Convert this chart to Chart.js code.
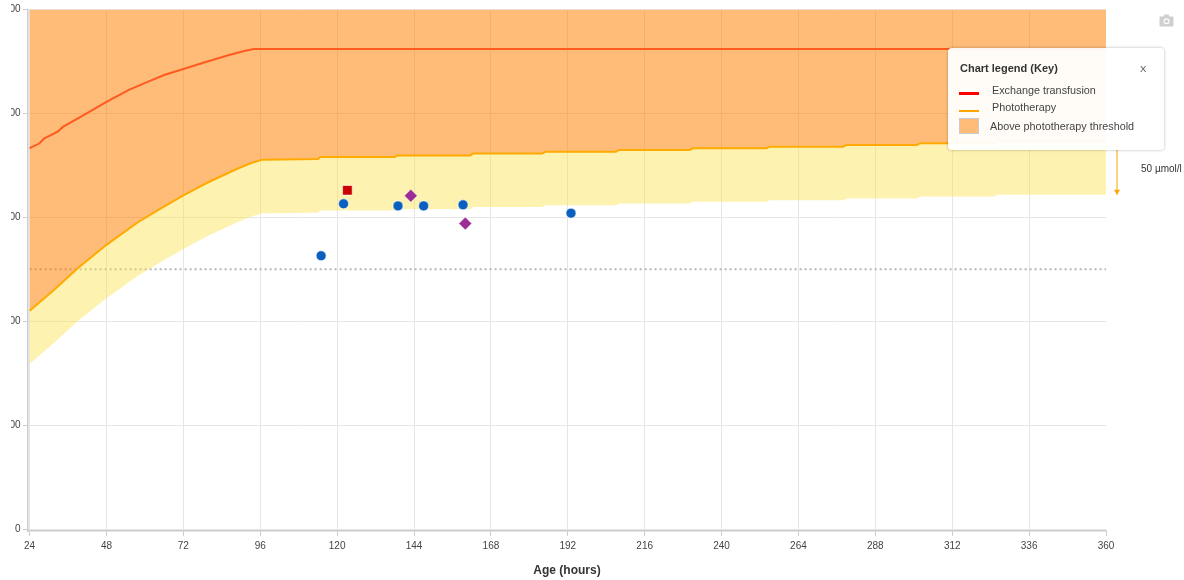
<!DOCTYPE html>
<html>
<head>
<meta charset="utf-8">
<style>
html,body{margin:0;padding:0;background:#fff;overflow:hidden;width:1184px;height:580px;font-family:"Liberation Sans",Arial,sans-serif}
#wrap{position:absolute;left:11px;top:0;width:1173px;height:580px}
#legend{position:absolute;left:948px;top:48px;width:216px;height:102px;box-sizing:border-box;background:rgba(255,255,255,.94);border-radius:4px;box-shadow:0 0 3px rgba(0,0,0,.3);color:#444;font-size:10.8px}
#legend div{position:absolute;white-space:nowrap;line-height:12px}
#legend .t{left:12px;top:14px;font-weight:bold;color:#333;font-size:11px}
#legend .x{left:192px;top:15px;color:#555;font-size:9.5px}
#legend .k1{left:11px;top:44px;width:20px;height:3px;background:#ff0000}
#legend .k2{left:11px;top:62px;width:20px;height:2px;background:#ffa500}
#legend .k3{left:11px;top:70px;width:18px;height:14px;background:#ffbb78;border:1px solid #ccc}
#legend .l1{left:44px;top:36px}
#legend .l2{left:44px;top:53px}
#legend .l3{left:42px;top:72px}
#cam{position:absolute;left:1159px;top:14px}
</style>
<script src="https://cdn.jsdelivr.net/npm/chart.js@4"></script>
</head>
<body>
<div id="wrap"><canvas id="c" width="1173" height="580"></canvas></div>
<svg id="cam" width="15" height="13" viewBox="0 0 15 13"><path fill="#cfcfcf" d="M1.5 2.5h3l1-2h4l1 2h3a1 1 0 0 1 1 1v8a1 1 0 0 1-1 1h-12a1 1 0 0 1-1-1v-8a1 1 0 0 1 1-1zM7.5 4.2a3 3 0 1 0 0 6 3 3 0 0 0 0-6z"/><circle cx="7.5" cy="7.2" r="1.8" fill="#cfcfcf"/></svg>
<div id="legend">
  <div class="t">Chart legend (Key)</div><div class="x">X</div>
  <div class="k1"></div><div class="l1">Exchange transfusion</div>
  <div class="k2"></div><div class="l2">Phototherapy</div>
  <div class="k3"></div><div class="l3">Above phototherapy threshold</div>
</div>
<script>
const xTicks = [24,48,72,96,120,144,168,192,216,240,264,288,312,336,360];
const yTicks = [0,100,200,300,400,500];

const exchangeHours = [24,27,28.6,32.8,34.4,41,48,55,61.4,66,72,78.5,86,91,94,360];
const exchangeValues = [366.5,371,376,382.5,387,398.5,411,422.6,431,437,442.8,449,456,460,462,462];

const photoHours = [24,31.6,39,48,57.7,62,65,72,79.6,89,93,96.7,114,114.8,138,138.8,161.6,162.4,184,185,207,208,230,231,254,255,278,279,301,302,325,326,360];
const photoUpper = [210,230,251,273.5,295,303,308.5,321,333.5,347,352,355.5,356,358,358,359.6,359.6,361.5,361.5,363,363,364.8,364.8,366.4,366.4,368,368,369.7,369.7,371.3,371.3,373,373];
const photoLower = [159,179,200,222,243.5,251.5,257,269.5,282,295.5,300.5,304,304.5,306.5,306.5,308,308,310,310,311.5,311.5,313.3,313.3,315,315,316.5,316.5,318.2,318.2,320,320,321.6,321.6];

const refHours = [24,360];
const refValues = [250,250];

const circleHours = [115,122,139,147,159.3,193];
const circleValues = [263,313,311,311,312,304];
const diamondHours = [143,160];
const diamondValues = [320.7,294];
const squareHours = [123.2];
const squareValues = [326];

const zip = (xs, ys) => xs.map((x, i) => ({x, y: ys[i]}));
const markerBase = {showLine:false, borderColor:'rgba(255,255,255,.6)', borderWidth:1};

const arrowPlugin = {
  id:'arrow',
  afterDraw(chart){
    const {ctx, scales:{y}, chartArea:a} = chart;
    const x = a.right + 11;
    const y1 = y.getPixelForValue(photoUpper[photoUpper.length-1]);
    const y2 = y.getPixelForValue(photoLower[photoLower.length-1]);
    ctx.save();
    ctx.strokeStyle = ctx.fillStyle = '#ffa500';
    ctx.lineWidth = 1;
    ctx.beginPath(); ctx.moveTo(x,y1); ctx.lineTo(x,y2); ctx.stroke();
    ctx.beginPath(); ctx.moveTo(x-3,y2-5); ctx.lineTo(x+3,y2-5); ctx.lineTo(x,y2); ctx.closePath(); ctx.fill();
    ctx.fillStyle = '#333';
    ctx.font = '10px "Liberation Sans", Arial, sans-serif';
    ctx.textBaseline = 'middle';
    ctx.fillText('50 µmol/l', x + 24, (y1+y2)/2 + 1);
    ctx.restore();
  }
};

new Chart(document.getElementById('c'), {
  type:'line',
  plugins:[arrowPlugin],
  data:{datasets:[
    {label:'Blood test', data:zip(circleHours,circleValues), ...markerBase, pointStyle:'circle', pointRadius:5, pointBackgroundColor:'#0a5fbf', pointBorderColor:'rgba(255,255,255,.6)'},
    {label:'Repeat', data:zip(diamondHours,diamondValues), ...markerBase, pointStyle:'rectRot', pointRadius:6.5, pointBackgroundColor:'#9c2c96', pointBorderColor:'rgba(255,255,255,.6)'},
    {label:'Treatment', data:zip(squareHours,squareValues), ...markerBase, pointStyle:'rect', pointRadius:6.8, pointBackgroundColor:'#cc0000', pointBorderColor:'rgba(255,255,255,.6)'},
    {label:'Exchange transfusion', data:zip(exchangeHours,exchangeValues), borderColor:'#ff5a1f', borderWidth:2, pointRadius:0, fill:false},
    {label:'Phototherapy', data:zip(photoHours,photoUpper), borderColor:'#ffaa00', borderWidth:2, pointRadius:0, fill:'end', backgroundColor:'rgba(255,128,0,.53)'},
    {label:'Below phototherapy', data:zip(photoHours,photoLower), borderWidth:0, borderColor:'transparent', pointRadius:0, fill:4, backgroundColor:'rgba(253,224,71,.43)'},
    {label:'Reference', data:zip(refHours,refValues), borderColor:'#b5b5b5', borderWidth:2, borderDash:[2,3], pointRadius:0, fill:false}
  ]},
  options:{
    responsive:false, animation:false,
    layout:{padding:{left:0,top:9.5,right:78,bottom:0}},
    elements:{line:{tension:0}},
    plugins:{legend:{display:false},tooltip:{enabled:false}},
    scales:{
      x:{
        type:'linear', min:23.5, max:360,
        afterBuildTicks(s){ s.ticks = xTicks.map(value=>({value})); },
        afterFit(s){ s.height = 49; },
        border:{color:'#cccccc',width:1.5},
        grid:{color:c=>c.tick && c.tick.value===360 ? 'rgba(0,0,0,0)' : '#e6e6e6',lineWidth:1,tickColor:'#cccccc',tickLength:5},
        ticks:{autoSkip:false,maxRotation:0,padding:4,color:'#444',font:{family:'"Liberation Sans", Arial',size:10}},
        title:{display:true,text:'Age (hours)',color:'#333',font:{family:'"Liberation Sans", Arial',size:12,weight:'bold'},padding:{top:0,bottom:2}}
      },
      y:{
        min:-1.9, max:500,
        afterBuildTicks(s){ s.ticks = yTicks.map(value=>({value})); },
        afterFit(s){ s.width = 17; },
        border:{color:'#cccccc',width:1.5},
        grid:{color:'#e6e6e6',lineWidth:1,tickColor:'#cccccc',tickLength:5},
        ticks:{padding:2.5,color:'#444',font:{family:'"Liberation Sans", Arial',size:10}}
      }
    }
  }
});
</script>
</body>
</html>
